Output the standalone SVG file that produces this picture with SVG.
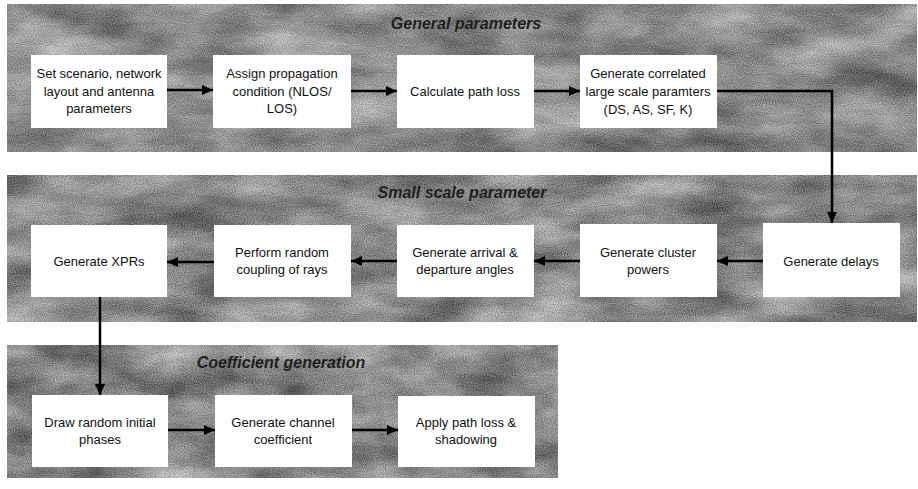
<svg xmlns="http://www.w3.org/2000/svg" width="918" height="489" viewBox="0 0 918 489">
<style>
.box{fill:#ffffff;stroke:none}
.t{font-family:"Liberation Sans",Arial,sans-serif;font-size:13px;fill:#111;text-anchor:middle}
.title{font-family:"Liberation Sans",Arial,sans-serif;font-size:16px;font-style:italic;font-weight:bold;fill:#1e1e1e;text-anchor:middle}
.c{fill:none;stroke:#000;stroke-width:2.5}
</style>
<defs>
<marker id="ah" markerUnits="userSpaceOnUse" markerWidth="11" markerHeight="10" refX="11" refY="5" orient="auto">
<path d="M0,0 L11,5 L0,10 z" fill="#000"/>
</marker>
<filter id="tex1" x="0" y="0" width="100%" height="100%" color-interpolation-filters="sRGB">
<feTurbulence type="fractalNoise" baseFrequency="0.012 0.03" numOctaves="4" seed="3" result="n"/>
<feColorMatrix in="n" type="matrix" values="0.55 0 0 0 0.26  0.55 0 0 0 0.26  0.55 0 0 0 0.26  0 0 0 0 1" result="g1"/>
<feTurbulence type="fractalNoise" baseFrequency="0.9" numOctaves="1" seed="7" result="f"/>
<feColorMatrix in="f" type="matrix" values="1 0 0 0 0  1 0 0 0 0  1 0 0 0 0  0 0 0 0 1" result="g2"/>
<feComposite in="g1" in2="g2" operator="arithmetic" k1="0" k2="1" k3="0.5" k4="-0.25" result="m"/>
<feComposite in="m" in2="SourceGraphic" operator="in"/>
</filter>
<filter id="tex2" x="0" y="0" width="100%" height="100%" color-interpolation-filters="sRGB">
<feTurbulence type="fractalNoise" baseFrequency="0.012 0.03" numOctaves="4" seed="11" result="n"/>
<feColorMatrix in="n" type="matrix" values="0.55 0 0 0 0.26  0.55 0 0 0 0.26  0.55 0 0 0 0.26  0 0 0 0 1" result="g1"/>
<feTurbulence type="fractalNoise" baseFrequency="0.9" numOctaves="1" seed="5" result="f"/>
<feColorMatrix in="f" type="matrix" values="1 0 0 0 0  1 0 0 0 0  1 0 0 0 0  0 0 0 0 1" result="g2"/>
<feComposite in="g1" in2="g2" operator="arithmetic" k1="0" k2="1" k3="0.5" k4="-0.25" result="m"/>
<feComposite in="m" in2="SourceGraphic" operator="in"/>
</filter>
<filter id="tex3" x="0" y="0" width="100%" height="100%" color-interpolation-filters="sRGB">
<feTurbulence type="fractalNoise" baseFrequency="0.015 0.03" numOctaves="4" seed="23" result="n"/>
<feColorMatrix in="n" type="matrix" values="0.55 0 0 0 0.26  0.55 0 0 0 0.26  0.55 0 0 0 0.26  0 0 0 0 1" result="g1"/>
<feTurbulence type="fractalNoise" baseFrequency="0.9" numOctaves="1" seed="9" result="f"/>
<feColorMatrix in="f" type="matrix" values="1 0 0 0 0  1 0 0 0 0  1 0 0 0 0  0 0 0 0 1" result="g2"/>
<feComposite in="g1" in2="g2" operator="arithmetic" k1="0" k2="1" k3="0.5" k4="-0.25" result="m"/>
<feComposite in="m" in2="SourceGraphic" operator="in"/>
</filter>
</defs>
<rect width="918" height="489" fill="#ffffff"/>

<g id="band-general">
<rect x="7" y="4" width="910" height="148" fill="#888" filter="url(#tex1)"/>
<text class="title" x="466" y="29">General parameters</text>
</g>
<g id="band-small">
<rect x="7" y="175" width="910" height="147" fill="#888" filter="url(#tex2)"/>
<text class="title" x="462" y="198">Small scale parameter</text>
</g>
<g id="band-coef">
<rect x="7" y="345" width="551" height="133" fill="#888" filter="url(#tex3)"/>
<text class="title" x="281" y="368">Coefficient generation</text>
</g>

<g id="connectors">
<line class="c" x1="167" y1="90" x2="213" y2="90" marker-end="url(#ah)"/>
<line class="c" x1="351" y1="91" x2="397" y2="91" marker-end="url(#ah)"/>
<line class="c" x1="534" y1="91" x2="580" y2="91" marker-end="url(#ah)"/>
<polyline class="c" points="717,91 832,91 832,223" marker-end="url(#ah)"/>
<line class="c" x1="763" y1="261" x2="717" y2="261" marker-end="url(#ah)"/>
<line class="c" x1="580" y1="261" x2="534" y2="261" marker-end="url(#ah)"/>
<line class="c" x1="397" y1="261" x2="351" y2="261" marker-end="url(#ah)"/>
<line class="c" x1="214" y1="262" x2="167" y2="262" marker-end="url(#ah)"/>
<line class="c" x1="100" y1="297" x2="100" y2="395" marker-end="url(#ah)"/>
<line class="c" x1="168" y1="430" x2="215" y2="430" marker-end="url(#ah)"/>
<line class="c" x1="352" y1="430" x2="398" y2="430" marker-end="url(#ah)"/>
</g>

<g id="n-set-scenario">
<rect class="box" x="31" y="55" width="136" height="73"/>
<text class="t" x="99" y="78">Set scenario, network</text>
<text class="t" x="99" y="96">layout and antenna</text>
<text class="t" x="99" y="113">parameters</text>
</g>
<g id="n-assign-propagation">
<rect class="box" x="213" y="55" width="138" height="73"/>
<text class="t" x="282" y="78">Assign propagation</text>
<text class="t" x="282" y="96">condition (NLOS/</text>
<text class="t" x="282" y="113">LOS)</text>
</g>
<g id="n-path-loss">
<rect class="box" x="397" y="55" width="137" height="73"/>
<text class="t" x="465" y="96">Calculate path loss</text>
</g>
<g id="n-large-scale">
<rect class="box" x="580" y="55" width="137" height="73"/>
<text class="t" x="648" y="78">Generate correlated</text>
<text class="t" x="648" y="96">large scale paramters</text>
<text class="t" x="648" y="114">(DS, AS, SF, K)</text>
</g>

<g id="n-xprs">
<rect class="box" x="31" y="225" width="136" height="72"/>
<text class="t" x="99" y="266">Generate XPRs</text>
</g>
<g id="n-coupling">
<rect class="box" x="214" y="225" width="137" height="72"/>
<text class="t" x="282" y="257">Perform random</text>
<text class="t" x="282" y="274">coupling of rays</text>
</g>
<g id="n-angles">
<rect class="box" x="397" y="225" width="137" height="72"/>
<text class="t" x="465" y="257">Generate arrival &amp;</text>
<text class="t" x="465" y="274">departure angles</text>
</g>
<g id="n-cluster-powers">
<rect class="box" x="580" y="224" width="137" height="73"/>
<text class="t" x="648" y="257">Generate cluster</text>
<text class="t" x="648" y="274">powers</text>
</g>
<g id="n-delays">
<rect class="box" x="763" y="223" width="137" height="74"/>
<text class="t" x="831" y="266">Generate delays</text>
</g>

<g id="n-phases">
<rect class="box" x="32" y="395" width="136" height="72"/>
<text class="t" x="100" y="427">Draw random initial</text>
<text class="t" x="100" y="444">phases</text>
</g>
<g id="n-channel-coef">
<rect class="box" x="215" y="395" width="137" height="72"/>
<text class="t" x="283" y="427">Generate channel</text>
<text class="t" x="283" y="444">coefficient</text>
</g>
<g id="n-apply-loss">
<rect class="box" x="398" y="396" width="137" height="71"/>
<text class="t" x="466" y="427">Apply path loss &amp;</text>
<text class="t" x="466" y="444">shadowing</text>
</g>
</svg>
